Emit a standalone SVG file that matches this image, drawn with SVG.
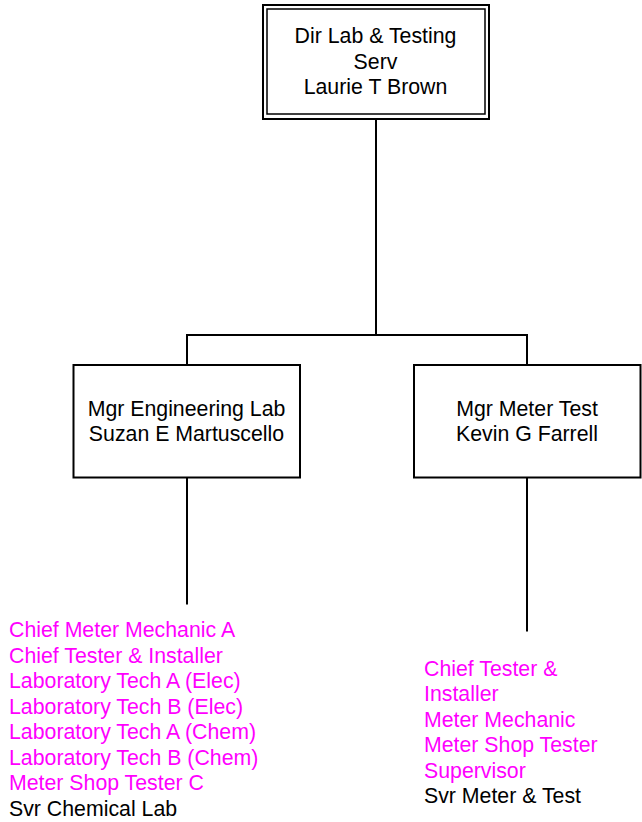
<svg xmlns="http://www.w3.org/2000/svg" width="642" height="822" viewBox="0 0 642 822">
<style>
.box{fill:#fff;stroke:#000;stroke-width:2}
.inner{fill:none;stroke:#000;stroke-width:1.5}
.t{font-family:"Liberation Sans",Arial,sans-serif;font-size:21.3px;fill:#000}
.c{text-anchor:middle}
.m{fill:#FF00FF}
.conn{fill:none;stroke:#000;stroke-width:2}
</style>
<rect width="642" height="822" fill="#fff"/>
<g id="connectors">
<path class="conn" d="M376 119 V335 M187 335 H527 M187 334 V365 M527 334 V365"/>
<path class="conn" d="M187 477 V604.5"/>
<path class="conn" d="M527 477 V631.5"/>
</g>
<g id="dir">
<rect class="box" x="263" y="5" width="226" height="114"/>
<rect class="inner" x="267" y="9" width="218" height="105"/>
<text class="t c" x="375.5" y="43">Dir Lab &amp; Testing</text>
<text class="t c" x="375.5" y="68.5">Serv</text>
<text class="t c" x="375.5" y="94">Laurie T Brown</text>
</g>
<g id="mgr-eng">
<rect class="box" x="73.5" y="365" width="226.5" height="112.5"/>
<text class="t c" x="186.5" y="415.5">Mgr Engineering Lab</text>
<text class="t c" x="186.5" y="440.5">Suzan E Martuscello</text>
</g>
<g id="mgr-meter">
<rect class="box" x="414" y="365" width="226.5" height="112.5"/>
<text class="t c" x="527" y="415.5">Mgr Meter Test</text>
<text class="t c" x="527" y="440.5">Kevin G Farrell</text>
</g>
<g id="eng-staff">
<text class="t m" x="9" y="637">Chief Meter Mechanic A</text>
<text class="t m" x="9" y="662.5">Chief Tester &amp; Installer</text>
<text class="t m" x="9" y="688">Laboratory Tech A (Elec)</text>
<text class="t m" x="9" y="713.5">Laboratory Tech B (Elec)</text>
<text class="t m" x="9" y="739">Laboratory Tech A (Chem)</text>
<text class="t m" x="9" y="764.5">Laboratory Tech B (Chem)</text>
<text class="t m" x="9" y="790">Meter Shop Tester C</text>
<text class="t" x="9" y="815.5">Svr Chemical Lab</text>
</g>
<g id="meter-staff">
<text class="t m" x="424" y="675.5">Chief Tester &amp;</text>
<text class="t m" x="424" y="701">Installer</text>
<text class="t m" x="424" y="726.5">Meter Mechanic</text>
<text class="t m" x="424" y="752">Meter Shop Tester</text>
<text class="t m" x="424" y="777.5">Supervisor</text>
<text class="t" x="424" y="803">Svr Meter &amp; Test</text>
</g>
</svg>
